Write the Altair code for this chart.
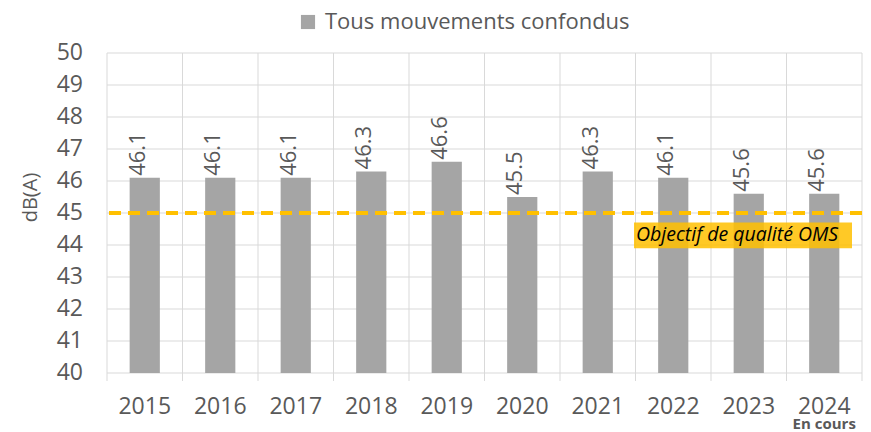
import altair as alt
import pandas as pd

years = ["2015", "2016", "2017", "2018", "2019", "2020", "2021", "2022", "2023", "2024"]
values = [46.1, 46.1, 46.1, 46.3, 46.6, 45.5, 46.3, 46.1, 45.6, 45.6]
series_name = "Tous mouvements confondus"
objective = [45.0]
annotation_text = ["Objectif de qualité OMS"]
annotation_y = [44.7, 43.9, 44.3]
note_year = ["2024"]
note_text = ["En cours"]
y_ticks = list(range(40, 51))

FONT = "Open Sans"
GREY_TXT = "#595959"
GRID = "#d9d9d9"
W, H = 755, 320

df = pd.DataFrame({"year": years, "value": values, "series": [series_name] * len(years)})
tick_df = pd.DataFrame({"tick": y_ticks})
obj_df = pd.DataFrame({"y": objective})
ann_df = pd.DataFrame({"y1": [annotation_y[0]], "y2": [annotation_y[1]], "yt": [annotation_y[2]], "label": annotation_text})
note_df = pd.DataFrame({"year": note_year, "label": note_text})

xscale = alt.Scale(domain=years, paddingInner=0, paddingOuter=0)
yscale = alt.Scale(domain=[40, 50], zero=False, nice=False)

x_axis = alt.Axis(title=None, labelAngle=0, labelFont=FONT, labelFontSize=23, labelColor=GREY_TXT,
                  ticks=False, domain=False, grid=False, labelPadding=22)
y_axis = alt.Axis(title="dB(A)", labels=False, ticks=False, domain=False, grid=False,
                  titleFont=FONT, titleFontSize=20, titleFontWeight="normal", titleColor=GREY_TXT,
                  titleAngle=270, titleX=-77, titleY=144, titleAlign="center", titleBaseline="middle")

base = alt.Chart(df)

hgrid = alt.Chart(tick_df).mark_rule(color=GRID, strokeWidth=1).encode(
    y=alt.Y("tick:Q", scale=yscale, axis=y_axis))
ylabels = alt.Chart(tick_df).mark_text(align="right", baseline="middle", font=FONT, fontSize=23,
                                       color=GREY_TXT).encode(
    x=alt.value(-24), y=alt.Y("tick:Q", scale=yscale, axis=y_axis), text=alt.Text("tick:Q"))

vgrid = base.mark_rule(color=GRID, strokeWidth=1).encode(
    x=alt.X("year:N", scale=xscale, bandPosition=0, axis=x_axis),
    y=alt.value(0), y2=alt.value(H + 8))
vgrid_end = alt.Chart(pd.DataFrame({"year": [years[-1]]})).mark_rule(color=GRID, strokeWidth=1).encode(
    x=alt.X("year:N", scale=xscale, bandPosition=1, axis=x_axis),
    y=alt.value(0), y2=alt.value(H + 8))

bars = base.mark_bar(width=alt.RelativeBandSize(0.4)).encode(
    x=alt.X("year:N", scale=xscale, axis=x_axis),
    y=alt.Y("value:Q", scale=yscale, axis=y_axis),
    y2=alt.datum(40),
    color=alt.Color("series:N", scale=alt.Scale(domain=[series_name], range=["#a5a5a5"]),
                    legend=alt.Legend(title=None, orient="none", legendX=190, legendY=-42,
                                      symbolType="square", symbolSize=200, symbolStrokeWidth=0,
                                      labelFont=FONT, labelFontSize=22, labelColor=GREY_TXT,
                                      labelLimit=0, labelOffset=6)))

labels = base.mark_text(angle=270, align="left", baseline="middle", dy=-7, dx=2,
                        font=FONT, fontSize=22, color=GREY_TXT).encode(
    x=alt.X("year:N", scale=xscale, axis=x_axis),
    y=alt.Y("value:Q", scale=yscale, axis=y_axis),
    text=alt.Text("value:Q", format=".1f"))

obj_rule = alt.Chart(obj_df).mark_rule(color="#FFC000", strokeWidth=4, strokeDash=[12, 7]).encode(
    y=alt.Y("y:Q", scale=yscale, axis=y_axis))

ann_rect = alt.Chart(ann_df).mark_rect(color="#FFC000", opacity=0.85).encode(
    x=alt.value(527), x2=alt.value(745),
    y=alt.Y("y1:Q", scale=yscale, axis=y_axis), y2="y2:Q")
ann_text = alt.Chart(ann_df).mark_text(align="left", baseline="middle", font=FONT, fontSize=19.5,
                                       fontStyle="italic", color="#000000").encode(
    x=alt.value(529), y=alt.Y("yt:Q", scale=yscale, axis=y_axis), text="label:N")

note = alt.Chart(note_df).mark_text(align="center", baseline="alphabetic", font=FONT, fontSize=15,
                                    fontWeight="bold", color=GREY_TXT).encode(
    x=alt.X("year:N", scale=xscale, axis=x_axis), y=alt.value(H + 56), text="label:N")

chart = alt.layer(hgrid, ylabels, vgrid, vgrid_end, bars, labels, obj_rule, ann_rect, ann_text, note).properties(
    width=W, height=H,
    autosize=alt.AutoSizeParams(type="none"),
    padding={"left": 99, "top": 45, "right": 1, "bottom": 59},
).configure_view(stroke=None)

chart.save("out.html", embed_options={"renderer": "svg", "actions": False})
